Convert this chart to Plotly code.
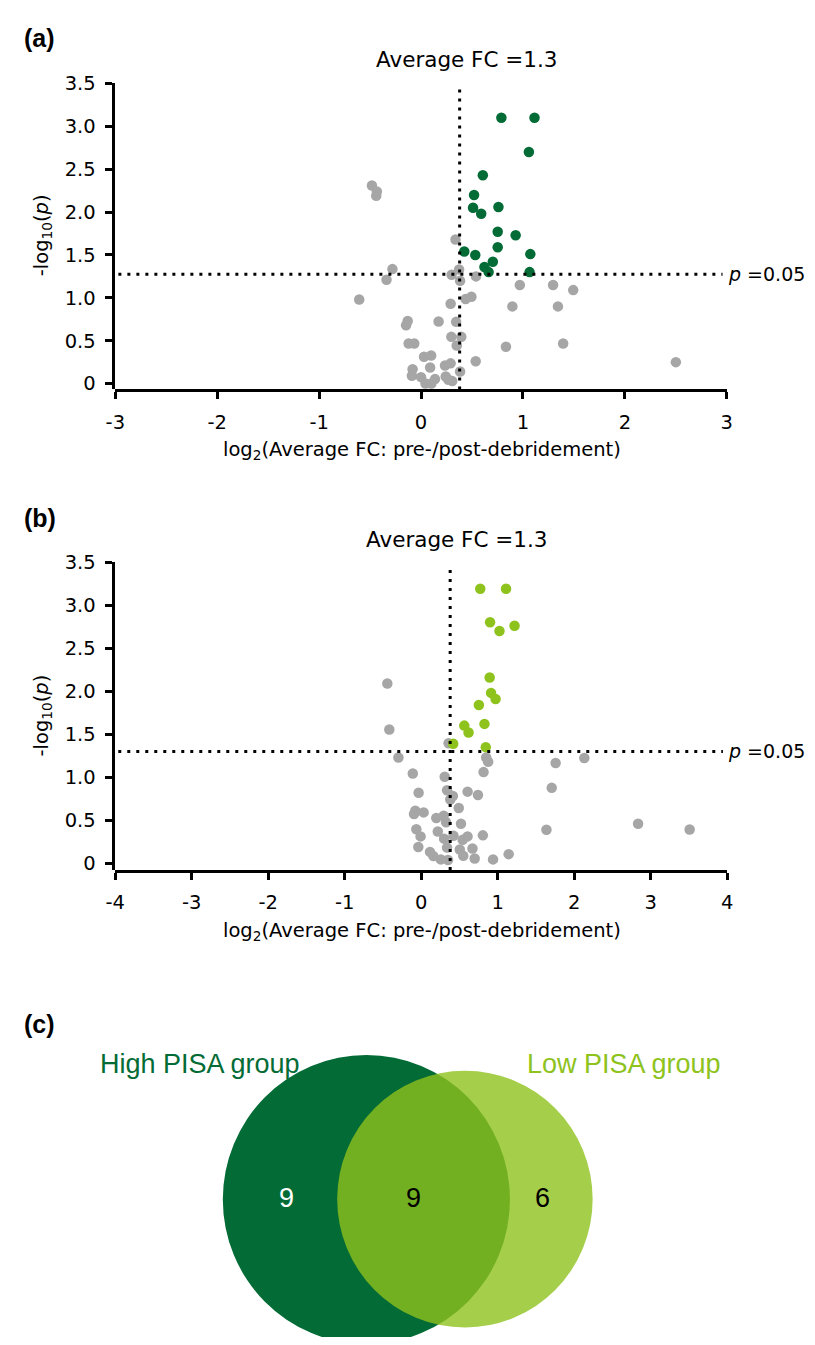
import math
import plotly.graph_objects as go

# page is 815x1345; the browser adds an 8px body margin, so the figure is 16px smaller
PAGE_W, PAGE_H = 815, 1345
MARGIN = 8
W, H = PAGE_W - 2 * MARGIN, PAGE_H - 2 * MARGIN

# ---------------- data ----------------
# Panel (a): High PISA group
a_sig_x = [0.788, 1.113, 1.058, 0.606, 0.520, 0.510, 0.759, 0.590, 0.752, 0.928,
           0.752, 0.424, 0.532, 1.072, 0.704, 0.622, 0.663, 1.065]
a_sig_y = [3.10, 3.10, 2.70, 2.43, 2.20, 2.05, 2.06, 1.98, 1.77, 1.73,
           1.59, 1.54, 1.50, 1.51, 1.42, 1.36, 1.30, 1.30]
a_ns_x = [-0.482, -0.434, -0.440, 0.338, -0.281, -0.339, -0.607, 0.373, 0.300, 0.383,
          0.539, 0.969, 1.295, 1.493, 0.437, 0.494, 0.290, 0.896, 1.343, -0.131,
          -0.147, 0.172, 0.344, 0.297, 0.395, 0.350, -0.122, -0.067, 0.833, 1.394,
          0.029, 0.099, 0.536, -0.083, 0.089, 0.235, 0.290, 0.383, -0.090, 0.000,
          0.137, 0.242, 0.268, 0.306, 0.044, 0.101, 2.500]
a_ns_y = [2.31, 2.24, 2.19, 1.68, 1.335, 1.21, 0.98, 1.33, 1.27, 1.20,
          1.25, 1.15, 1.15, 1.09, 0.985, 1.013, 0.93, 0.90, 0.90, 0.73,
          0.68, 0.725, 0.72, 0.545, 0.545, 0.444, 0.467, 0.467, 0.43, 0.467,
          0.313, 0.328, 0.26, 0.167, 0.187, 0.21, 0.236, 0.14, 0.091, 0.075,
          0.052, 0.083, 0.045, 0.029, 0.0, 0.0, 0.25]

# Panel (b): Low PISA group
b_sig_x = [0.772, 1.109, 0.900, 1.220, 1.023, 0.895, 0.913, 0.972, 0.754, 0.563,
           0.827, 0.619, 0.418, 0.844]
b_sig_y = [3.19, 3.19, 2.80, 2.76, 2.70, 2.16, 1.98, 1.91, 1.84, 1.60,
           1.62, 1.52, 1.39, 1.35]
b_ns_x = [-0.443, -0.417, 0.358, -0.298, 0.849, 0.875, 0.815, -0.110, 0.307, 1.757,
          2.132, 1.706, 1.637, 2.835, 3.509, -0.034, 0.338, 0.414, 0.380, 0.606,
          0.742, 0.491, -0.077, -0.094, 0.031, 0.197, 0.294, 0.325, 0.520, -0.064,
          -0.008, 0.217, 0.299, 0.422, 0.542, 0.606, 0.806, -0.038, 0.338, 0.504,
          0.670, 0.115, 0.159, 0.256, 0.350, 0.550, 0.699, 0.939, 1.143]
b_ns_y = [2.09, 1.555, 1.395, 1.23, 1.23, 1.18, 1.06, 1.044, 1.005, 1.165,
          1.223, 0.877, 0.39, 0.459, 0.393, 0.821, 0.849, 0.783, 0.741, 0.833,
          0.795, 0.642, 0.611, 0.573, 0.592, 0.527, 0.554, 0.477, 0.459, 0.397,
          0.313, 0.370, 0.287, 0.321, 0.275, 0.313, 0.325, 0.190, 0.183, 0.161,
          0.172, 0.133, 0.084, 0.046, 0.038, 0.087, 0.057, 0.046, 0.107]

avg_fc = 1.3
fc_line = math.log2(avg_fc)
p_line_a = 1.275
p_line_b = 1.30

a_xticks = [-3, -2, -1, 0, 1, 2, 3]
b_xticks = [-4, -3, -2, -1, 0, 1, 2, 3, 4]
y_ticks = [0, 0.5, 1.0, 1.5, 2.0, 2.5, 3.0, 3.5]
y_ticktext = ["0", "0.5", "1.0", "1.5", "2.0", "2.5", "3.0", "3.5"]

venn_labels = ["High PISA group", "Low PISA group"]
venn_counts = [9, 9, 6]  # high only, shared, low only

# ---------------- style ----------------
GRAY = "#A6A6A6"
DARK = "#036B35"
LIGHT = "#8EC21D"
FONT = "DejaVu Sans"
VFONT = "Liberation Sans"


def px(x):
    return (x - MARGIN) / W


def py(y):
    return 1 - (y - MARGIN) / H


fig = go.Figure()
mk = dict(size=10.5, line=dict(width=0))
fig.add_trace(go.Scatter(x=a_ns_x, y=a_ns_y, mode="markers", marker=dict(color=GRAY, **mk),
                         xaxis="x", yaxis="y", showlegend=False))
fig.add_trace(go.Scatter(x=a_sig_x, y=a_sig_y, mode="markers", marker=dict(color=DARK, **mk),
                         xaxis="x", yaxis="y", showlegend=False))
fig.add_trace(go.Scatter(x=b_ns_x, y=b_ns_y, mode="markers", marker=dict(color=GRAY, **mk),
                         xaxis="x2", yaxis="y2", showlegend=False))
fig.add_trace(go.Scatter(x=b_sig_x, y=b_sig_y, mode="markers", marker=dict(color=LIGHT, **mk),
                         xaxis="x2", yaxis="y2", showlegend=False))

tickfont = dict(family=FONT, size=19.5, color="black")
axcommon = dict(showgrid=False, zeroline=False, showline=True, linewidth=3, linecolor="black",
                ticks="outside", ticklen=7, tickwidth=2.5, tickcolor="black", tickfont=tickfont)

fig.update_layout(
    width=W, height=H, margin=dict(l=0, r=0, t=0, b=0),
    paper_bgcolor="white", plot_bgcolor="white", showlegend=False,
    xaxis=dict(domain=[px(107.3), px(731.3)], range=[-3, 3], anchor="y",
               tickvals=a_xticks, ticktext=[str(v) for v in a_xticks],
               ticklabelstandoff=6, **axcommon),
    yaxis=dict(domain=[py(383.3), py(73.3)], range=[-0.069, 3.5], anchor="free", position=px(104.5),
               tickvals=y_ticks, ticktext=y_ticktext, ticklabelstandoff=5, **axcommon),
    xaxis2=dict(domain=[px(107.2), px(731.7)], range=[-4, 4], anchor="y2",
                tickvals=b_xticks, ticktext=[str(v) for v in b_xticks],
                ticklabelstandoff=6, **axcommon),
    yaxis2=dict(domain=[py(870), py(558.1)], range=[-0.077, 3.5], anchor="free", position=px(104.5),
                tickvals=y_ticks, ticktext=y_ticktext, ticklabelstandoff=5, **axcommon),
)

dotline = dict(color="black", width=3, dash="3px,6px")
shapes = [
    dict(type="line", xref="x", yref="y domain", x0=fc_line, x1=fc_line, y0=0, y1=0.985, line=dotline),
    dict(type="line", xref="x domain", yref="y", x0=0.005, x1=0.993, y0=p_line_a, y1=p_line_a, line=dotline),
    dict(type="line", xref="x2", yref="y2 domain", x0=fc_line, x1=fc_line, y0=0, y1=0.985, line=dotline),
    dict(type="line", xref="x2 domain", yref="y2", x0=0.005, x1=0.993, y0=p_line_b, y1=p_line_b, line=dotline),
]

# Venn diagram (c)
shapes.append(dict(type="circle", xref="paper", yref="paper", layer="above",
                   x0=px(217), x1=px(510), y0=py(1350.3), y1=py(1057.3),
                   fillcolor=DARK, line=dict(width=0)))
shapes.append(dict(type="circle", xref="paper", yref="paper", layer="above",
                   x0=px(333.7), x1=px(594.4), y0=py(1333.5), y1=py(1073.3),
                   fillcolor=LIGHT, opacity=0.8, line=dict(width=0)))
fig.update_layout(shapes=shapes)

ann = []
txt = dict(family=FONT, size=19.5, color="black")
ttl = dict(family=FONT, size=21.5, color="black")
for lab, yy in (("(a)", 27), ("(b)", 513.5), ("(c)", 1026.5)):
    ann.append(dict(text="<b>%s</b>" % lab, xref="paper", yref="paper", x=px(12), y=py(yy),
                    xanchor="left", yanchor="middle", showarrow=False,
                    font=dict(family=VFONT, size=25, color="black")))
# Average FC labels
ann.append(dict(text="Average FC =%s" % avg_fc, xref="x", yref="paper", x=fc_line, y=py(49),
                xanchor="center", yanchor="middle", showarrow=False, xshift=7, font=ttl))
ann.append(dict(text="Average FC =%s" % avg_fc, xref="x2", yref="paper", x=fc_line, y=py(535.5),
                xanchor="center", yanchor="middle", showarrow=False, xshift=7, font=ttl))
# p labels
pfont = dict(family=FONT, size=19, color="black")
ann.append(dict(text="<i>p</i> =0.05", xref="paper", yref="y", x=px(730), y=p_line_a,
                xanchor="left", yanchor="middle", showarrow=False, font=pfont))
ann.append(dict(text="<i>p</i> =0.05", xref="paper", yref="y2", x=px(730), y=p_line_b,
                xanchor="left", yanchor="middle", showarrow=False, font=pfont))
# axis titles
xt = "log<sub>2</sub>(Average FC: pre-/post-debridement)"
yt = "-log<sub>10</sub>(<i>p</i>)"
ann.append(dict(text=xt, xref="paper", yref="paper", x=px(420), y=py(445), xanchor="center",
                yanchor="middle", showarrow=False, font=txt))
ann.append(dict(text=xt, xref="paper", yref="paper", x=px(420), y=py(932), xanchor="center",
                yanchor="middle", showarrow=False, font=txt))
ann.append(dict(text=yt, xref="paper", yref="paper", x=px(33), y=py(226.5), xanchor="center",
                yanchor="middle", textangle=-90, showarrow=False, font=txt))
ann.append(dict(text=yt, xref="paper", yref="paper", x=px(33), y=py(713), xanchor="center",
                yanchor="middle", textangle=-90, showarrow=False, font=txt))
# Venn labels
ann.append(dict(text=venn_labels[0], xref="paper", yref="paper", x=px(90), y=py(1066.7),
                xanchor="left", yanchor="middle", showarrow=False,
                font=dict(family=VFONT, size=27, color=DARK)))
ann.append(dict(text=venn_labels[1], xref="paper", yref="paper", x=px(525), y=py(1066.7),
                xanchor="left", yanchor="middle", showarrow=False,
                font=dict(family=VFONT, size=27, color=LIGHT)))
for val, xx, col in zip(venn_counts, (281.5, 412, 543.3), ("white", "black", "black")):
    ann.append(dict(text=str(val), xref="paper", yref="paper", x=px(xx), y=py(1202.7),
                    xanchor="center", yanchor="middle", showarrow=False,
                    font=dict(family=VFONT, size=27, color=col)))
fig.update_layout(annotations=ann)

fig.write_html("out.html")
